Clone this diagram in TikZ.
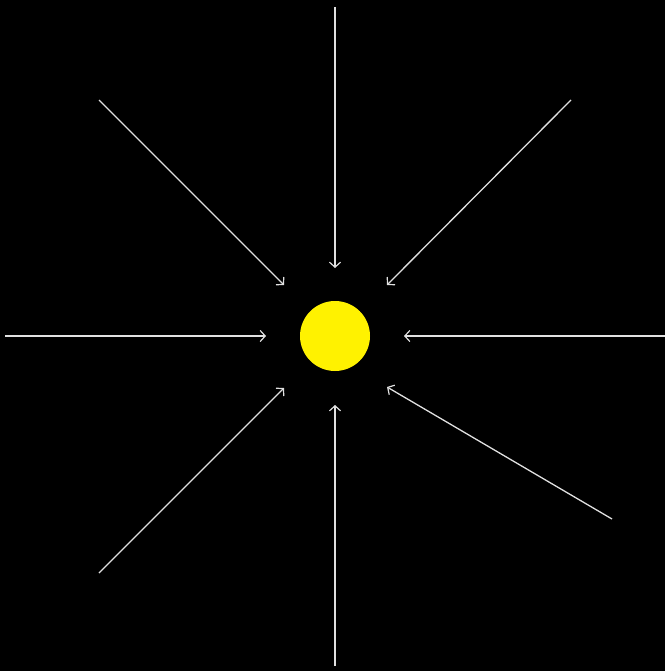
\documentclass[tikz,border=0pt]{standalone}
\usetikzlibrary{arrows.meta}
\begin{document}
\begin{tikzpicture}[x=1pt,y=-1pt,
  ray/.style={draw=white!88!black,line width=1.3pt,-{Straight Barb[length=5pt,width=11pt,line width=1.2pt]}},
  sun/.style={circle,fill=yellow,draw=none,minimum size=70pt,inner sep=0pt}]
\fill[black] (0,0) rectangle (665,671);
\useasboundingbox (0,0) rectangle (665,671);
\node[sun] (s) at (335,336) {};
\coordinate (t0) at (335,7);   \coordinate (t1) at (335,268);
\coordinate (tl0) at (99,100); \coordinate (tl1) at (284,285);
\coordinate (tr0) at (571,100); \coordinate (tr1) at (387,285);
\coordinate (l0) at (5,336);   \coordinate (l1) at (266,336);
\coordinate (r0) at (665,336); \coordinate (r1) at (404,336);
\coordinate (bl0) at (99,573); \coordinate (bl1) at (284,388);
\coordinate (b0) at (335,666); \coordinate (b1) at (335,405);
\coordinate (br0) at (612,519); \coordinate (br1) at (387,387);
\foreach \a in {t,tl,tr,l,r,bl,b,br} \draw[ray] (\a0) -- (\a1);
\end{tikzpicture}
\end{document}
